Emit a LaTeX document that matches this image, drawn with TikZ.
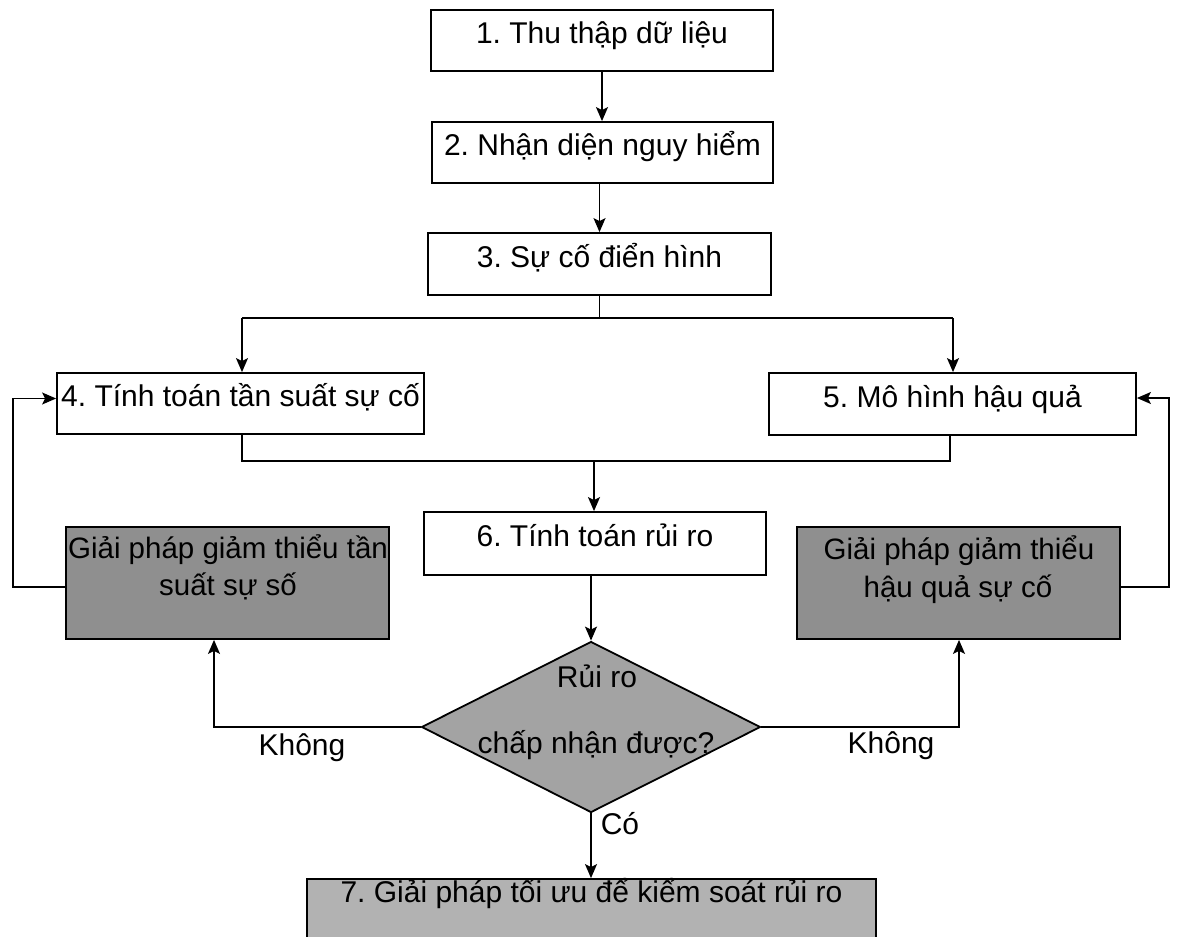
\documentclass[tikz,border=0pt]{standalone}
\usepackage{fontspec}
\setmainfont{Liberation Sans}
\usetikzlibrary{arrows.meta,shapes.geometric}
\definecolor{boxgray}{gray}{0.56}
\definecolor{diagray}{gray}{0.64}
\definecolor{lastgray}{gray}{0.70}
\frenchspacing
\begin{document}
\begin{tikzpicture}[x=1pt,y=-1pt,
  txt/.style={font=\fontsize{30}{36}\selectfont, inner sep=0pt, text height=20pt, text depth=14pt},
  gtxt/.style={txt, font=\fontsize{29.5}{36}\selectfont},
  box/.style={txt, draw, line width=1.8pt, fill=white},
  gbox/.style={draw, line width=1.8pt, fill=boxgray, inner sep=0pt},
  conn/.style={line width=1.5pt},
  arr/.style={conn, -{Stealth[length=14pt,width=12pt,inset=3pt]}}
]
\useasboundingbox (0,0) rectangle (1178,937);

% boxes
\node[box, minimum width=342pt, minimum height=61pt] (b1) at (602,40.5) {1. Thu thập dữ liệu};
\node[box, minimum width=341pt, minimum height=61pt] (b2) at (602.5,152.5) {2. Nhận diện nguy hiểm};
\node[box, minimum width=343pt, minimum height=62pt] (b3) at (599.5,264) {3. Sự cố điển hình};
\node[box, minimum width=367pt, minimum height=61pt] (b4) at (240.5,403.5) {4. Tính toán tần suất sự cố};
\node[box, minimum width=367pt, minimum height=62pt] (b5) at (952.5,404) {5. Mô hình hậu quả};
\node[box, minimum width=342pt, minimum height=63pt] (b6) at (595,543.5) {6. Tính toán rủi ro};

\node[gbox, minimum width=323pt, minimum height=112pt] (gL) at (227.5,583) {};
\node[gtxt] (gL1) at (228,555) {Giải pháp giảm thiểu tần};
\node[gtxt] (gL2) at (228,592) {suất sự số};
\node[gbox, minimum width=323pt, minimum height=112pt] (gR) at (958.5,583) {};
\node[gtxt] (gR1) at (959,556) {Giải pháp giảm thiểu};
\node[gtxt] (gR2) at (958,594) {hậu quả sự cố};

\node[diamond, draw, line width=1.8pt, fill=diagray, inner sep=0pt,
      minimum width=339pt, minimum height=171pt] (d) at (591,727) {};
\node[txt] (d1) at (597,684) {Rủi ro};
\node[txt] (d2) at (596,750) {chấp nhận được?};

\node[txt, draw, line width=1.8pt, fill=lastgray, minimum width=569pt, minimum height=59pt,
      text height=14pt, text depth=27pt] (b7) at (591.5,908.5) {7. Giải pháp tối ưu để kiểm soát rủi ro};

% labels
\node[txt] (kL) at (302,752) {Không};
\node[txt] (kR) at (891,750) {Không};
\node[txt] (co) at (620,831) {Có};

% helper coordinates
\coordinate (sL) at (242,318);
\coordinate (sR) at (953,318);
\coordinate (mL) at (242,461);
\coordinate (mR) at (950,461);
\coordinate (m6) at (594,461);
\coordinate (cL) at (214,727);
\coordinate (cR) at (959,727);
\coordinate (fL) at (13,587);
\coordinate (fR) at (1169,587);

% connectors
\draw[arr] (b1.south) -- (b1.south |- b2.north);
\draw[arr] (b3.north |- b2.south) -- (b3.north);
\draw[conn] (b3.south) -- (b3.south |- sL);
\draw[conn] (sL) -- (sR);
\draw[arr] (sL) -- (sL |- b4.north);
\draw[arr] (sR) -- (sR |- b5.north);
\draw[conn] (mL |- b4.south) -- (mL) -- (mR) -- (mR |- b5.south);
\draw[arr] (m6) -- (m6 |- b6.north);
\draw[arr] (d.north |- b6.south) -- (d.north);
\draw[arr] (d.west) -- (cL) -- (cL |- gL.south);
\draw[arr] (d.east) -- (cR) -- (cR |- gR.south);
\draw[arr] (d.south) -- (d.south |- b7.north);
\draw[arr] (gL.west |- fL) -- (fL) |- ([yshift=5pt]b4.west);
\draw[arr] (gR.east |- fR) -- (fR) |- ([yshift=6pt]b5.east);
\end{tikzpicture}
\end{document}
